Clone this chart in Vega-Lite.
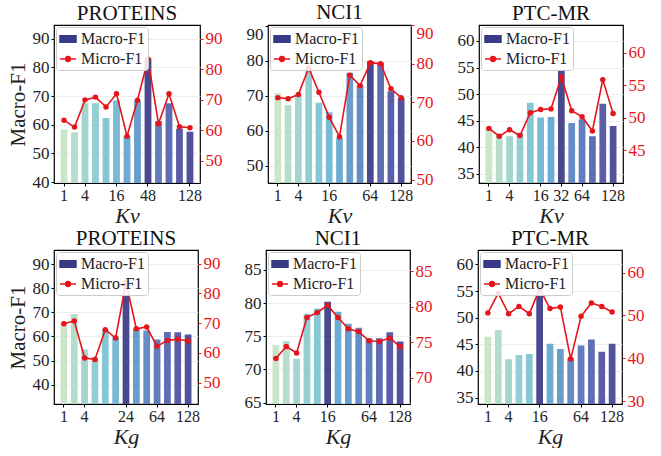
{
  "$schema": "https://vega.github.io/schema/vega-lite/v6.json",
  "padding": {"left": 6, "top": 1, "right": 4, "bottom": 0},
  "background": "white",
  "datasets": {
    "p1": [
      {"k": "1", "macro": 58.4, "micro": 63.3, "best": false},
      {"k": "2", "macro": 57.4, "micro": 61.1, "best": false},
      {"k": "4", "macro": 67.5, "micro": 70.0, "best": false},
      {"k": "8", "macro": 67.5, "micro": 70.9, "best": false},
      {"k": "12", "macro": 62.4, "micro": 67.7, "best": false},
      {"k": "16", "macro": 68.5, "micro": 72.0, "best": false},
      {"k": "24", "macro": 56.0, "micro": 58.1, "best": false},
      {"k": "32", "macro": 68.5, "micro": 69.9, "best": false},
      {"k": "48", "macro": 83.2, "micro": 83.3, "best": true},
      {"k": "64", "macro": 61.3, "micro": 62.2, "best": false},
      {"k": "80", "macro": 67.5, "micro": 72.0, "best": false},
      {"k": "96", "macro": 58.6, "micro": 61.2, "best": false},
      {"k": "128", "macro": 57.6, "micro": 60.9, "best": false}
    ],
    "p2": [
      {"k": "1", "macro": 70.7, "micro": 71.2, "best": false},
      {"k": "2", "macro": 67.3, "micro": 70.9, "best": false},
      {"k": "4", "macro": 70.2, "micro": 72.0, "best": false},
      {"k": "8", "macro": 78.2, "micro": 78.9, "best": false},
      {"k": "12", "macro": 68.0, "micro": 72.6, "best": false},
      {"k": "16", "macro": 65.3, "micro": 66.1, "best": false},
      {"k": "24", "macro": 57.9, "micro": 61.1, "best": false},
      {"k": "32", "macro": 76.6, "micro": 77.0, "best": false},
      {"k": "48", "macro": 73.2, "micro": 74.3, "best": false},
      {"k": "64", "macro": 79.9, "micro": 80.2, "best": true},
      {"k": "80", "macro": 79.5, "micro": 80.0, "best": false},
      {"k": "96", "macro": 71.3, "micro": 73.5, "best": false},
      {"k": "128", "macro": 69.4, "micro": 71.2, "best": false}
    ],
    "p3": [
      {"k": "1", "macro": 43.7, "micro": 48.4, "best": false},
      {"k": "2", "macro": 42.4, "micro": 47.2, "best": false},
      {"k": "4", "macro": 42.1, "micro": 48.2, "best": false},
      {"k": "8", "macro": 42.7, "micro": 47.3, "best": false},
      {"k": "12", "macro": 48.4, "micro": 50.8, "best": false},
      {"k": "16", "macro": 45.6, "micro": 51.3, "best": false},
      {"k": "24", "macro": 45.7, "micro": 51.4, "best": false},
      {"k": "32", "macro": 54.5, "micro": 56.3, "best": true},
      {"k": "48", "macro": 44.6, "micro": 51.1, "best": false},
      {"k": "64", "macro": 45.3, "micro": 50.2, "best": false},
      {"k": "80", "macro": 42.1, "micro": 48.0, "best": false},
      {"k": "96", "macro": 48.2, "micro": 55.9, "best": false},
      {"k": "128", "macro": 44.0, "micro": 50.7, "best": false}
    ],
    "p4": [
      {"k": "1", "macro": 66.1, "micro": 69.8, "best": false},
      {"k": "2", "macro": 69.4, "micro": 70.7, "best": false},
      {"k": "4", "macro": 54.6, "micro": 58.3, "best": false},
      {"k": "8", "macro": 51.1, "micro": 57.8, "best": false},
      {"k": "12", "macro": 62.9, "micro": 67.8, "best": false},
      {"k": "16", "macro": 59.7, "micro": 65.0, "best": false},
      {"k": "24", "macro": 77.5, "micro": 83.7, "best": true},
      {"k": "32", "macro": 63.2, "micro": 68.1, "best": false},
      {"k": "48", "macro": 62.5, "micro": 68.7, "best": false},
      {"k": "64", "macro": 58.7, "micro": 62.2, "best": false},
      {"k": "80", "macro": 61.9, "micro": 64.2, "best": false},
      {"k": "96", "macro": 61.8, "micro": 64.6, "best": false},
      {"k": "128", "macro": 60.8, "micro": 64.0, "best": false}
    ],
    "p5": [
      {"k": "1", "macro": 73.7, "micro": 72.7, "best": false},
      {"k": "2", "macro": 74.3, "micro": 74.4, "best": false},
      {"k": "4", "macro": 71.6, "micro": 73.5, "best": false},
      {"k": "8", "macro": 78.4, "micro": 78.5, "best": false},
      {"k": "12", "macro": 79.2, "micro": 79.2, "best": false},
      {"k": "16", "macro": 80.2, "micro": 80.2, "best": true},
      {"k": "24", "macro": 78.7, "micro": 78.5, "best": false},
      {"k": "32", "macro": 76.9, "micro": 76.9, "best": false},
      {"k": "48", "macro": 76.3, "micro": 76.5, "best": false},
      {"k": "64", "macro": 74.7, "micro": 75.2, "best": false},
      {"k": "80", "macro": 74.7, "micro": 75.1, "best": false},
      {"k": "96", "macro": 75.6, "micro": 75.6, "best": false},
      {"k": "128", "macro": 74.2, "micro": 74.4, "best": false}
    ],
    "p6": [
      {"k": "1", "macro": 46.4, "micro": 50.6, "best": false},
      {"k": "2", "macro": 47.7, "micro": 55.2, "best": false},
      {"k": "4", "macro": 42.2, "micro": 50.4, "best": false},
      {"k": "8", "macro": 43.0, "micro": 52.1, "best": false},
      {"k": "12", "macro": 43.2, "micro": 50.4, "best": false},
      {"k": "16", "macro": 54.2, "micro": 56.2, "best": true},
      {"k": "24", "macro": 45.1, "micro": 51.6, "best": false},
      {"k": "32", "macro": 44.1, "micro": 52.0, "best": false},
      {"k": "48", "macro": 42.4, "micro": 39.8, "best": false},
      {"k": "64", "macro": 44.8, "micro": 49.8, "best": false},
      {"k": "80", "macro": 45.9, "micro": 52.9, "best": false},
      {"k": "96", "macro": 43.6, "micro": 52.1, "best": false},
      {"k": "128", "macro": 45.1, "micro": 50.8, "best": false}
    ]
  },
  "vconcat": [
    {
      "hconcat": [
        {
          "width": 146, "height": 158,
          "title": "PROTEINS",
          "data": {"name": "p1"},
          "layer": [
            {
              "mark": {"type": "bar", "clip": true},
              "encoding": {
                "x": {"field": "k", "type": "ordinal", "scale": {"domain": ["1","2","4","8","12","16","24","32","48","64","80","96","128"], "paddingInner": 0.35, "paddingOuter": 0.63}, "axis": {"values": ["1","4","16","48","128"], "title": "Kv", "labelAngle": 0}},
                "y": {"field": "macro", "type": "quantitative", "scale": {"domain": [39.7, 94.8], "nice": false, "zero": false}, "axis": {"values": [40,50,60,70,80,90], "title": "Macro-F1", "grid": true}},
                "color": {"condition": {"test": "datum.best", "value": "#4a4990"}, "field": "k", "type": "ordinal", "scale": {"domain": ["1","2","4","8","12","16","24","32","48","64","80","96","128"], "range": ["#cbe5c8","#b6ddcb","#a3d5ce","#93cfd2","#86c7d5","#79bad6","#6eabd2","#699dcd","#648cc5","#627dbe","#5e6db4","#5a5ea9","#52519c"]}, "legend": null}
              }
            },
            {
              "mark": {"type": "line", "strokeWidth": 1.6, "point": {"filled": true, "size": 30}},
              "encoding": {
                "x": {"field": "k", "type": "ordinal"},
                "y": {"field": "micro", "type": "quantitative", "scale": {"domain": [42.8, 94.5], "nice": false, "zero": false}, "axis": {"orient": "right", "values": [50,60,70,80,90], "title": null, "labelColor": "#e6141b", "tickColor": "#e6141b", "grid": false}},
                "color": {"datum": "Micro-F1", "scale": {"domain": ["Macro-F1","Micro-F1"], "range": ["#363a87","#e6141b"]}, "legend": {"encode": {"symbols": {"update": {"shape": {"signal": "datum.value === 'Macro-F1' ? 'M-1,-0.42H1V0.42H-1Z' : 'M-1,0H1M0.3,0A0.3,0.3,0,1,1,-0.3,0A0.3,0.3,0,1,1,0.3,0'"}, "fill": {"signal": "datum.value === 'Macro-F1' ? '#363a87' : '#e6141b'"}, "stroke": {"signal": "datum.value === 'Macro-F1' ? '#363a87' : '#e6141b'"}, "strokeWidth": {"value": 1.5}, "opacity": {"value": 1}}}}}}
              }
            }
          ],
          "resolve": {"scale": {"y": "independent", "color": "independent"}}
        },
        {
          "width": 143, "height": 158,
          "title": "NCI1",
          "data": {"name": "p2"},
          "layer": [
            {
              "mark": {"type": "bar", "clip": true},
              "encoding": {
                "x": {"field": "k", "type": "ordinal", "scale": {"domain": ["1","2","4","8","12","16","24","32","48","64","80","96","128"], "paddingInner": 0.35, "paddingOuter": 0.63}, "axis": {"values": ["1","4","16","64","128"], "title": "Kv", "labelAngle": 0}},
                "y": {"field": "macro", "type": "quantitative", "scale": {"domain": [45, 90.3], "nice": false, "zero": false}, "axis": {"values": [50,60,70,80,90], "title": null, "grid": true, "labelFlush": 3}},
                "color": {"condition": {"test": "datum.best", "value": "#4a4990"}, "field": "k", "type": "ordinal", "scale": {"domain": ["1","2","4","8","12","16","24","32","48","64","80","96","128"], "range": ["#cbe5c8","#b6ddcb","#a3d5ce","#93cfd2","#86c7d5","#79bad6","#6eabd2","#699dcd","#648cc5","#627dbe","#5e6db4","#5a5ea9","#52519c"]}, "legend": null}
              }
            },
            {
              "mark": {"type": "line", "strokeWidth": 1.6, "point": {"filled": true, "size": 30}},
              "encoding": {
                "x": {"field": "k", "type": "ordinal"},
                "y": {"field": "micro", "type": "quantitative", "scale": {"domain": [49.1, 90], "nice": false, "zero": false}, "axis": {"orient": "right", "values": [50,60,70,80,90], "title": null, "labelColor": "#e6141b", "tickColor": "#e6141b", "grid": false, "labelFlush": 2}},
                "color": {"datum": "Micro-F1", "scale": {"domain": ["Macro-F1","Micro-F1"], "range": ["#363a87","#e6141b"]}, "legend": {"encode": {"symbols": {"update": {"shape": {"signal": "datum.value === 'Macro-F1' ? 'M-1,-0.42H1V0.42H-1Z' : 'M-1,0H1M0.3,0A0.3,0.3,0,1,1,-0.3,0A0.3,0.3,0,1,1,0.3,0'"}, "fill": {"signal": "datum.value === 'Macro-F1' ? '#363a87' : '#e6141b'"}, "stroke": {"signal": "datum.value === 'Macro-F1' ? '#363a87' : '#e6141b'"}, "strokeWidth": {"value": 1.5}, "opacity": {"value": 1}}}}}}
              }
            }
          ],
          "resolve": {"scale": {"y": "independent", "color": "independent"}}
        },
        {
          "width": 144, "height": 158,
          "title": "PTC-MR",
          "data": {"name": "p3"},
          "layer": [
            {
              "mark": {"type": "bar", "clip": true},
              "encoding": {
                "x": {"field": "k", "type": "ordinal", "scale": {"domain": ["1","2","4","8","12","16","24","32","48","64","80","96","128"], "paddingInner": 0.35, "paddingOuter": 0.63}, "axis": {"values": ["1","4","16","32","64","128"], "title": "Kv", "labelAngle": 0}},
                "y": {"field": "macro", "type": "quantitative", "scale": {"domain": [33.3, 63], "nice": false, "zero": false}, "axis": {"values": [35,40,45,50,55,60], "title": null, "grid": true}},
                "color": {"condition": {"test": "datum.best", "value": "#4a4990"}, "field": "k", "type": "ordinal", "scale": {"domain": ["1","2","4","8","12","16","24","32","48","64","80","96","128"], "range": ["#cbe5c8","#b6ddcb","#a3d5ce","#93cfd2","#86c7d5","#79bad6","#6eabd2","#699dcd","#648cc5","#627dbe","#5e6db4","#5a5ea9","#52519c"]}, "legend": null}
              }
            },
            {
              "mark": {"type": "line", "strokeWidth": 1.6, "point": {"filled": true, "size": 30}},
              "encoding": {
                "x": {"field": "k", "type": "ordinal"},
                "y": {"field": "micro", "type": "quantitative", "scale": {"domain": [40, 64.3], "nice": false, "zero": false}, "axis": {"orient": "right", "values": [45,50,55,60], "title": null, "labelColor": "#e6141b", "tickColor": "#e6141b", "grid": false}},
                "color": {"datum": "Micro-F1", "scale": {"domain": ["Macro-F1","Micro-F1"], "range": ["#363a87","#e6141b"]}, "legend": {"encode": {"symbols": {"update": {"shape": {"signal": "datum.value === 'Macro-F1' ? 'M-1,-0.42H1V0.42H-1Z' : 'M-1,0H1M0.3,0A0.3,0.3,0,1,1,-0.3,0A0.3,0.3,0,1,1,0.3,0'"}, "fill": {"signal": "datum.value === 'Macro-F1' ? '#363a87' : '#e6141b'"}, "stroke": {"signal": "datum.value === 'Macro-F1' ? '#363a87' : '#e6141b'"}, "strokeWidth": {"value": 1.5}, "opacity": {"value": 1}}}}}}
              }
            }
          ],
          "resolve": {"scale": {"y": "independent", "color": "independent"}}
        }
      ]
    },
    {
      "hconcat": [
        {
          "width": 144, "height": 154,
          "title": "PROTEINS",
          "data": {"name": "p4"},
          "layer": [
            {
              "mark": {"type": "bar", "clip": true},
              "encoding": {
                "x": {"field": "k", "type": "ordinal", "scale": {"domain": ["1","2","4","8","12","16","24","32","48","64","80","96","128"], "paddingInner": 0.35, "paddingOuter": 0.63}, "axis": {"values": ["1","4","24","64","128"], "title": "Kg", "labelAngle": 0}},
                "y": {"field": "macro", "type": "quantitative", "scale": {"domain": [31.9, 96], "nice": false, "zero": false}, "axis": {"values": [40,50,60,70,80,90], "title": "Macro-F1", "grid": true}},
                "color": {"condition": {"test": "datum.best", "value": "#4a4990"}, "field": "k", "type": "ordinal", "scale": {"domain": ["1","2","4","8","12","16","24","32","48","64","80","96","128"], "range": ["#cbe5c8","#b6ddcb","#a3d5ce","#93cfd2","#86c7d5","#79bad6","#6eabd2","#699dcd","#648cc5","#627dbe","#5e6db4","#5a5ea9","#52519c"]}, "legend": null}
              }
            },
            {
              "mark": {"type": "line", "strokeWidth": 1.6, "point": {"filled": true, "size": 30}},
              "encoding": {
                "x": {"field": "k", "type": "ordinal"},
                "y": {"field": "micro", "type": "quantitative", "scale": {"domain": [42.8, 94.6], "nice": false, "zero": false}, "axis": {"orient": "right", "values": [50,60,70,80,90], "title": null, "labelColor": "#e6141b", "tickColor": "#e6141b", "grid": false}},
                "color": {"datum": "Micro-F1", "scale": {"domain": ["Macro-F1","Micro-F1"], "range": ["#363a87","#e6141b"]}, "legend": {"encode": {"symbols": {"update": {"shape": {"signal": "datum.value === 'Macro-F1' ? 'M-1,-0.42H1V0.42H-1Z' : 'M-1,0H1M0.3,0A0.3,0.3,0,1,1,-0.3,0A0.3,0.3,0,1,1,0.3,0'"}, "fill": {"signal": "datum.value === 'Macro-F1' ? '#363a87' : '#e6141b'"}, "stroke": {"signal": "datum.value === 'Macro-F1' ? '#363a87' : '#e6141b'"}, "strokeWidth": {"value": 1.5}, "opacity": {"value": 1}}}}}}
              }
            }
          ],
          "resolve": {"scale": {"y": "independent", "color": "independent"}}
        },
        {
          "width": 144, "height": 154,
          "title": "NCI1",
          "data": {"name": "p5"},
          "layer": [
            {
              "mark": {"type": "bar", "clip": true},
              "encoding": {
                "x": {"field": "k", "type": "ordinal", "scale": {"domain": ["1","2","4","8","12","16","24","32","48","64","80","96","128"], "paddingInner": 0.35, "paddingOuter": 0.63}, "axis": {"values": ["1","4","16","64","128"], "title": "Kg", "labelAngle": 0}},
                "y": {"field": "macro", "type": "quantitative", "scale": {"domain": [64.8, 88], "nice": false, "zero": false}, "axis": {"values": [65,70,75,80,85], "title": null, "grid": true}},
                "color": {"condition": {"test": "datum.best", "value": "#4a4990"}, "field": "k", "type": "ordinal", "scale": {"domain": ["1","2","4","8","12","16","24","32","48","64","80","96","128"], "range": ["#cbe5c8","#b6ddcb","#a3d5ce","#93cfd2","#86c7d5","#79bad6","#6eabd2","#699dcd","#648cc5","#627dbe","#5e6db4","#5a5ea9","#52519c"]}, "legend": null}
              }
            },
            {
              "mark": {"type": "line", "strokeWidth": 1.6, "point": {"filled": true, "size": 30}},
              "encoding": {
                "x": {"field": "k", "type": "ordinal"},
                "y": {"field": "micro", "type": "quantitative", "scale": {"domain": [66.3, 88], "nice": false, "zero": false}, "axis": {"orient": "right", "values": [70,75,80,85], "title": null, "labelColor": "#e6141b", "tickColor": "#e6141b", "grid": false}},
                "color": {"datum": "Micro-F1", "scale": {"domain": ["Macro-F1","Micro-F1"], "range": ["#363a87","#e6141b"]}, "legend": {"encode": {"symbols": {"update": {"shape": {"signal": "datum.value === 'Macro-F1' ? 'M-1,-0.42H1V0.42H-1Z' : 'M-1,0H1M0.3,0A0.3,0.3,0,1,1,-0.3,0A0.3,0.3,0,1,1,0.3,0'"}, "fill": {"signal": "datum.value === 'Macro-F1' ? '#363a87' : '#e6141b'"}, "stroke": {"signal": "datum.value === 'Macro-F1' ? '#363a87' : '#e6141b'"}, "strokeWidth": {"value": 1.5}, "opacity": {"value": 1}}}}}}
              }
            }
          ],
          "resolve": {"scale": {"y": "independent", "color": "independent"}}
        },
        {
          "width": 144, "height": 154,
          "title": "PTC-MR",
          "data": {"name": "p6"},
          "layer": [
            {
              "mark": {"type": "bar", "clip": true},
              "encoding": {
                "x": {"field": "k", "type": "ordinal", "scale": {"domain": ["1","2","4","8","12","16","24","32","48","64","80","96","128"], "paddingInner": 0.35, "paddingOuter": 0.63}, "axis": {"values": ["1","4","16","64","128"], "title": "Kg", "labelAngle": 0}},
                "y": {"field": "macro", "type": "quantitative", "scale": {"domain": [33.8, 62.7], "nice": false, "zero": false}, "axis": {"values": [35,40,45,50,55,60], "title": null, "grid": true}},
                "color": {"condition": {"test": "datum.best", "value": "#4a4990"}, "field": "k", "type": "ordinal", "scale": {"domain": ["1","2","4","8","12","16","24","32","48","64","80","96","128"], "range": ["#cbe5c8","#b6ddcb","#a3d5ce","#93cfd2","#86c7d5","#79bad6","#6eabd2","#699dcd","#648cc5","#627dbe","#5e6db4","#5a5ea9","#52519c"]}, "legend": null}
              }
            },
            {
              "mark": {"type": "line", "strokeWidth": 1.6, "point": {"filled": true, "size": 30}},
              "encoding": {
                "x": {"field": "k", "type": "ordinal"},
                "y": {"field": "micro", "type": "quantitative", "scale": {"domain": [29.3, 65.3], "nice": false, "zero": false}, "axis": {"orient": "right", "values": [30,40,50,60], "title": null, "labelColor": "#e6141b", "tickColor": "#e6141b", "grid": false}},
                "color": {"datum": "Micro-F1", "scale": {"domain": ["Macro-F1","Micro-F1"], "range": ["#363a87","#e6141b"]}, "legend": {"encode": {"symbols": {"update": {"shape": {"signal": "datum.value === 'Macro-F1' ? 'M-1,-0.42H1V0.42H-1Z' : 'M-1,0H1M0.3,0A0.3,0.3,0,1,1,-0.3,0A0.3,0.3,0,1,1,0.3,0'"}, "fill": {"signal": "datum.value === 'Macro-F1' ? '#363a87' : '#e6141b'"}, "stroke": {"signal": "datum.value === 'Macro-F1' ? '#363a87' : '#e6141b'"}, "strokeWidth": {"value": 1.5}, "opacity": {"value": 1}}}}}}
              }
            }
          ],
          "resolve": {"scale": {"y": "independent", "color": "independent"}}
        }
      ]
    }
  ],
  "spacing": 0,
  "config": {
    "font": "Liberation Serif",
    "view": {"stroke": "#000000", "strokeWidth": 1.2},
    "concat": {"spacing": 22},
    "axis": {
      "labelFont": "Liberation Serif", "labelFontSize": 17, "labelColor": "#222222",
      "titleFont": "Liberation Serif", "titleFontSize": 21, "titleFontWeight": "normal", "titleColor": "#222222",
      "domain": false, "tickColor": "#000000", "tickSize": 3, "labelPadding": 2, "titlePadding": 4,
      "gridColor": "#e8e8e8", "gridWidth": 0.8
    },
    "axisX": {"grid": false, "titleFontStyle": "italic", "titleFontSize": 22, "titlePadding": 2, "labelPadding": 1, "labelFontSize": 16},
    "title": {"font": "Liberation Serif", "fontSize": 21, "fontWeight": "normal", "offset": 1, "color": "#111111"},
    "legend": {
      "orient": "top-left", "offset": 2, "title": null,
      "labelFont": "Liberation Serif", "labelFontSize": 16, "labelColor": "#222222", "labelOffset": 4,
      "padding": 3, "rowPadding": 3, "symbolSize": 256,
      "strokeColor": "#cccccc", "fillColor": "rgba(255,255,255,0.85)", "cornerRadius": 3
    }
  }
}
